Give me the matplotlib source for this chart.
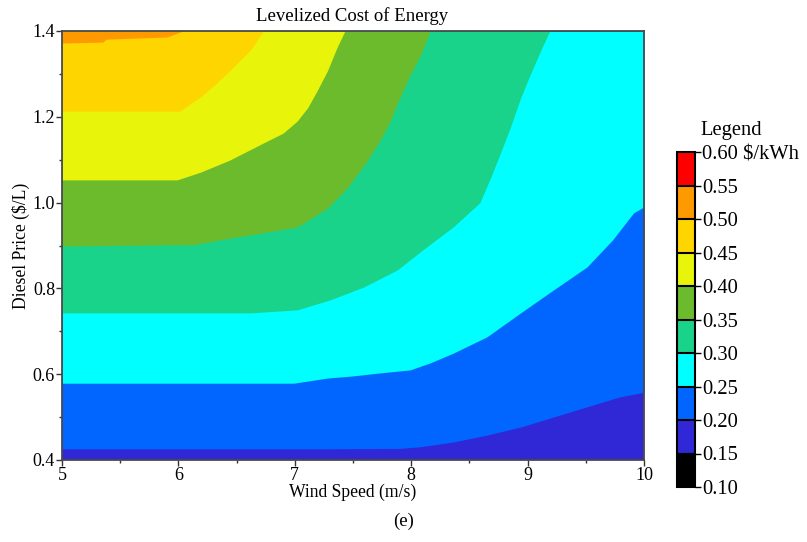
"""
levelized cost of energy vs wind speed and diesel price (contour bands)
"""
import matplotlib
matplotlib.use("Agg")
import matplotlib.pyplot as plt
from matplotlib.colors import ListedColormap, BoundaryNorm
from matplotlib.cm import ScalarMappable

plt.rcParams['font.family'] = ['Liberation Serif', 'DejaVu Serif']

# colour bands of the legend ($/kWh)
levels = [0.10, 0.15, 0.20, 0.25, 0.30, 0.35, 0.40, 0.45, 0.50, 0.55, 0.60]
level_labels = ["0.10", "0.15", "0.20", "0.25", "0.30", "0.35",
                "0.40", "0.45", "0.50", "0.55", "0.60 $/kWh"]
band_colors = ["#000000", "#3028d6", "#0066ff", "#00ffff", "#19d38a",
               "#6cbb2d", "#e8f50a", "#ffd500", "#ff9900", "#ff0000"]

# axes ranges / ticks
wind_ticks = [5, 6, 7, 8, 9, 10]
price_ticks = [0.4, 0.6, 0.8, 1.0, 1.2, 1.4]

# contour lines: wind speed (m/s) -> diesel price ($/L)
wind_020 = [5.0, 7.2, 7.9, 8.08, 8.36, 8.65, 8.94, 9.22, 9.51, 9.79, 10.0]
price_020 = [0.426, 0.426, 0.427, 0.431, 0.442, 0.458, 0.477, 0.500, 0.524, 0.547, 0.558]

wind_025 = [5.0, 6.99, 7.28, 7.50, 7.73, 7.99, 8.16, 8.36, 8.65, 8.94, 9.22,
            9.51, 9.73, 9.91, 10.0]
price_025 = [0.579, 0.579, 0.591, 0.596, 0.603, 0.610, 0.626, 0.649, 0.687,
             0.743, 0.796, 0.850, 0.913, 0.976, 0.990]

wind_030 = [5.0, 6.62, 7.02, 7.30, 7.59, 7.88, 8.10, 8.36, 8.59, 8.68, 8.76,
            8.85, 8.94, 9.02, 9.11, 9.19, 10.0]
price_030 = [0.743, 0.743, 0.750, 0.773, 0.803, 0.843, 0.890, 0.943, 1.000,
             1.057, 1.111, 1.174, 1.244, 1.297, 1.353, 1.400, 1.400]

wind_035 = [5.0, 6.13, 6.44, 7.02, 7.28, 7.45, 7.62, 7.73, 7.82, 7.90, 7.99,
            8.08, 8.14, 8.16, 10.0]
price_035 = [0.899, 0.902, 0.917, 0.943, 0.987, 1.034, 1.097, 1.144, 1.190,
             1.244, 1.297, 1.344, 1.384, 1.400, 1.400]

wind_040 = [5.0, 5.99, 6.19, 6.44, 6.73, 6.90, 7.02, 7.11, 7.19, 7.28, 7.36,
            7.43, 10.0]
price_040 = [1.053, 1.053, 1.071, 1.099, 1.139, 1.162, 1.190, 1.221, 1.260,
             1.307, 1.360, 1.400, 1.400]

wind_045 = [5.0, 6.01, 6.19, 6.33, 6.44, 6.62, 6.73, 10.0]
price_045 = [1.213, 1.213, 1.246, 1.279, 1.307, 1.356, 1.400, 1.400]

wind_050 = [5.0, 5.35, 5.38, 5.90, 6.04, 10.0]
price_050 = [1.372, 1.374, 1.381, 1.386, 1.400, 1.400]

contours = [(0.20, wind_020, price_020), (0.25, wind_025, price_025),
            (0.30, wind_030, price_030), (0.35, wind_035, price_035),
            (0.40, wind_040, price_040), (0.45, wind_045, price_045),
            (0.50, wind_050, price_050)]


def band_color(value):
    return band_colors[min(range(len(levels)), key=lambda i: abs(levels[i] - value))]


fig = plt.figure(figsize=(8.07, 5.42), dpi=100)
ax = fig.add_axes([62 / 807, 1 - 460 / 542, 582 / 807, 429 / 542])

# lowest band is the background, each contour fills upward with the next band
ax.set_facecolor(band_color(0.15))
for lev, w, p in contours:
    ax.fill_between(w, p, price_ticks[-1], color=band_color(lev), lw=0)

ax.set_xlim(wind_ticks[0], wind_ticks[-1])
ax.set_ylim(price_ticks[0], price_ticks[-1])
ax.set_xticks(wind_ticks)
ax.set_yticks(price_ticks)
ax.set_yticklabels([f"{v:.1f}" for v in price_ticks])
ax.set_xticks([5.5, 6.5, 7.5, 8.5, 9.5], minor=True)
ax.set_yticks([0.5, 0.7, 0.9, 1.1, 1.3], minor=True)
ax.tick_params(which='major', direction='out', length=4, width=1,
               labelsize=13, pad=1, color='#333333')
ax.tick_params(which='minor', direction='out', length=2, width=1,
               color='#333333')
for s in ax.spines.values():
    s.set_color('#4a4a4a')
    s.set_linewidth(1.3)

ax.set_xlabel("Wind Speed (m/s)", fontsize=12.7, labelpad=0)
ax.set_ylabel("Diesel Price ($/L)", fontsize=12.7, labelpad=2)
fig.text(352 / 807, 1 - 16 / 542, "Levelized Cost of Energy",
         fontsize=13.5, ha='center', va='center')
fig.text(404 / 807, 1 - 521 / 542, "(e)", fontsize=13.5,
         ha='center', va='center')

# legend colour bar
cmap = ListedColormap(band_colors)
norm = BoundaryNorm(levels, cmap.N)
cax = fig.add_axes([677 / 807, 1 - 487 / 542, 18 / 807, 335 / 542])
cb = fig.colorbar(ScalarMappable(norm=norm, cmap=cmap), cax=cax,
                  ticks=levels, drawedges=True)
cb.outline.set_linewidth(1.5)
cb.dividers.set_color('black')
cb.dividers.set_linewidth(1.5)
cb.ax.set_yticklabels(level_labels)
cb.ax.tick_params(length=4, width=1, labelsize=14.8, pad=1)
fig.text(700 / 807, 1 - 130 / 542, "Legend", fontsize=14.8,
         ha='left', va='center')

fig.savefig("out.png", dpi=100)
